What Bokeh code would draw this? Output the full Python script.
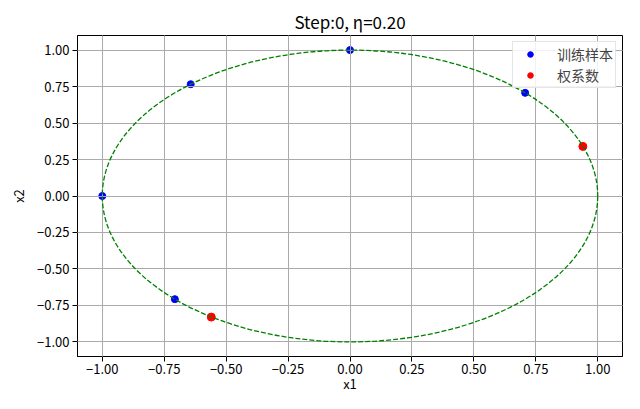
from bokeh.plotting import figure
from bokeh.models import FixedTicker, Range1d, Legend, LegendItem
from bokeh.embed import file_html
from bokeh.resources import INLINE

# data
sample_x = [-1.0, -0.643, 0.0, 0.707, -0.707]
sample_y = [0.0, 0.766, 1.0, 0.707, -0.707]
weight_x = [0.94, -0.56]
weight_y = [0.34, -0.83]
circle_center = [0.0]
circle_diameter = [2.0]
ticks = [-1.0, -0.75, -0.5, -0.25, 0.0, 0.25, 0.5, 0.75, 1.0]
tick_labels = ["\u22121.00", "\u22120.75", "\u22120.50", "\u22120.25", "0.00", "0.25", "0.50", "0.75", "1.00"]
title_text = "Step:0, \u03b7=0.20"

FONT = "Noto Sans CJK SC"

p = figure(width=624, height=400, output_backend="svg", toolbar_location=None,
           x_range=Range1d(-1.1, 1.1), y_range=Range1d(-1.1, 1.1),
           min_border_left=77, min_border_right=2, min_border_top=35, min_border_bottom=44,
           title=title_text)

p.title.align = "center"
p.title.text_font = FONT
p.title.text_font_size = "17px"
p.title.text_font_style = "normal"
p.title.text_color = "black"
p.title.standoff = 4

p.outline_line_color = "black"
p.outline_line_width = 1
p.outline_line_alpha = 1

overrides = {t: l for t, l in zip(ticks, tick_labels)}
for ax in (p.xaxis, p.yaxis):
    ax.ticker = FixedTicker(ticks=ticks)
    ax.major_label_overrides = overrides
    ax.major_label_text_font = FONT
    ax.major_label_text_font_size = "13px"
    ax.major_label_text_color = "black"
    ax.axis_label_text_font = FONT
    ax.axis_label_text_font_size = "13px"
    ax.axis_label_text_font_style = "normal"
    ax.axis_label_text_color = "black"
    ax.axis_line_color = "black"
    ax.major_tick_line_color = "black"
    ax.major_tick_out = 5
    ax.major_tick_in = 0
    ax.minor_tick_line_color = None
    ax.major_label_standoff = 3
p.xaxis.axis_label = "x1"
p.yaxis.axis_label = "x2"
p.yaxis.axis_label_standoff = 6
p.xaxis.axis_label_standoff = -3
p.xaxis.major_label_standoff = 2

for g in (p.xgrid, p.ygrid):
    g.ticker = FixedTicker(ticks=ticks)
    g.grid_line_color = "#aaaaaa"
    g.grid_line_width = 1
    g.level = "guide"

r_s = p.scatter(sample_x, sample_y, size=7, color="blue")
r_w = p.scatter(weight_x, weight_y, size=8, color="red")
r_c = p.ellipse(x=circle_center, y=circle_center, width=circle_diameter, height=circle_diameter,
                fill_color=None, line_color="green", line_width=1.3, line_dash="5 2")
r_c.level = "annotation"

legend = Legend(items=[LegendItem(label="训练样本", renderers=[r_s]),
                       LegendItem(label="权系数", renderers=[r_w])],
                location="top_right")
legend.label_text_font = FONT
legend.label_text_font_size = "14px"
legend.label_text_line_height = 1.0
legend.margin = 6
legend.padding = 2
legend.spacing = 1
legend.glyph_height = 14
legend.label_height = 14
legend.border_line_color = "#cccccc"
legend.background_fill_alpha = 0.85
legend.glyph_width = 30
legend.label_standoff = 12
p.add_layout(legend)

open("out.html", "w").write(file_html(p, INLINE))
